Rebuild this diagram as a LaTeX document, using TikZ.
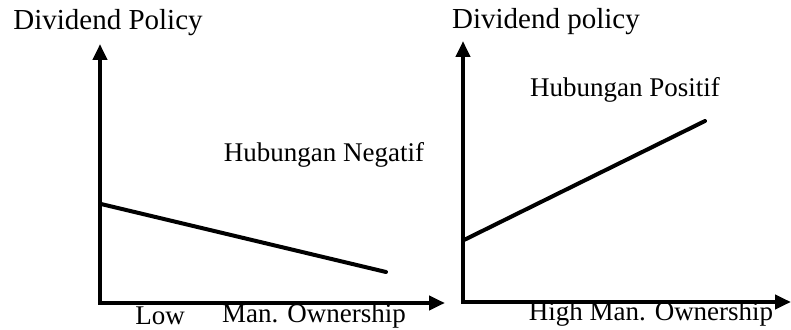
\documentclass[tikz,border=0pt]{standalone}
\usepackage{fontspec}
\setmainfont{Liberation Serif}
\usetikzlibrary{arrows.meta}
\begin{document}
\begin{tikzpicture}[x=0.5pt,y=-0.5pt,
    axis/.style={line width=2pt,line join=miter,
      {Triangle[length=8pt,width=7pt]}-{Triangle[length=8pt,width=7pt]}},
    trend/.style={line width=2pt,line cap=round},
    lbl/.style={font=\fontsize{13.5}{15}\selectfont,inner sep=0pt}]
  \useasboundingbox (0,0) rectangle (791,330);
  % left panel
  \draw
    (100,303) coordinate (o1)
    (100,44) coordinate (y1)
    (445,303) coordinate (x1)
    (101,204) coordinate (a1)
    (386,272) coordinate (b1);
  \node[lbl,font=\fontsize{14.5}{16}\selectfont] (dp1) at (108,23) {Dividend Policy};
  \node[lbl] (neg) at (324,155) {Hubungan Negatif};
  \node[lbl] (low) at (160,316) {Low};
  \node[lbl] (mo1) at (314,316) {Man. Ownership};
  % right panel
  \draw
    (463,302) coordinate (o2)
    (463,41) coordinate (y2)
    (791,302) coordinate (x2)
    (464,240) coordinate (a2)
    (705,121) coordinate (b2);
  \node[lbl,font=\fontsize{14.5}{16}\selectfont] (dp2) at (546,22) {Dividend policy};
  \node[lbl] (pos) at (625,90) {Hubungan Positif};
  \node[lbl] (mo2) at (651,314) {High Man. Ownership};
  \begin{scope}
    \draw[axis] (y1) -- (o1) -- (x1);
    \draw[trend] (a1) -- (b1);
    \draw[axis] (y2) -- (o2) -- (x2);
    \draw[trend] (a2) -- (b2);
  \end{scope}
\end{tikzpicture}
\end{document}
